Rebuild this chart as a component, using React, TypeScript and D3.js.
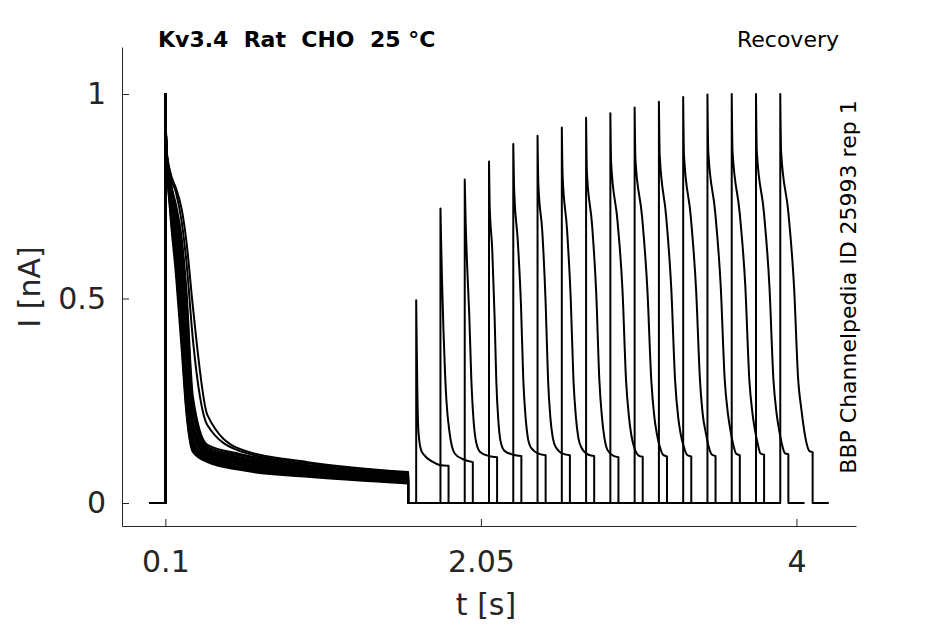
import React, { useEffect, useRef } from 'react';
import * as d3 from 'd3';

type Pt = [number, number];

// first (conditioning) pulse: sample times in s
const firstPulseTimes = [0.1, 0.106, 0.13, 0.165, 0.2, 0.23, 0.27, 0.36, 0.56, 0.98, 1.6];

// current in nA of every sweep at those times
const firstPulseCurrents: number[][] = [
  [1, 0.86, 0.71, 0.56, 0.38, 0.22, 0.125, 0.1, 0.081, 0.064, 0.048],
  [1, 0.86, 0.72, 0.58, 0.4, 0.23, 0.13, 0.103, 0.084, 0.066, 0.05],
  [1, 0.86, 0.73, 0.6, 0.42, 0.25, 0.135, 0.106, 0.087, 0.068, 0.051],
  [1, 0.86, 0.74, 0.62, 0.45, 0.27, 0.14, 0.108, 0.089, 0.07, 0.053],
  [1, 0.86, 0.74, 0.63, 0.47, 0.29, 0.145, 0.111, 0.092, 0.072, 0.055],
  [1, 0.87, 0.75, 0.65, 0.5, 0.31, 0.15, 0.114, 0.095, 0.074, 0.056],
  [1, 0.87, 0.76, 0.66, 0.52, 0.33, 0.16, 0.117, 0.097, 0.076, 0.058],
  [1, 0.87, 0.76, 0.67, 0.54, 0.35, 0.17, 0.12, 0.1, 0.078, 0.06],
  [1, 0.87, 0.77, 0.68, 0.56, 0.38, 0.18, 0.123, 0.103, 0.08, 0.061],
  [1, 0.87, 0.77, 0.69, 0.58, 0.41, 0.19, 0.126, 0.106, 0.082, 0.063],
  [1, 0.87, 0.78, 0.7, 0.6, 0.44, 0.2, 0.129, 0.109, 0.084, 0.065],
  [1, 0.87, 0.78, 0.71, 0.62, 0.47, 0.22, 0.133, 0.112, 0.087, 0.067],
  [1, 0.87, 0.79, 0.72, 0.64, 0.5, 0.24, 0.137, 0.116, 0.09, 0.069],
  [1, 0.87, 0.79, 0.73, 0.65, 0.52, 0.26, 0.142, 0.12, 0.093, 0.071],
  [1, 0.87, 0.8, 0.76, 0.69, 0.59, 0.4, 0.19, 0.127, 0.097, 0.074],
  [1, 0.87, 0.81, 0.77, 0.72, 0.64, 0.48, 0.215, 0.132, 0.1, 0.076],
];

// onset of the test pulse in each sweep (s)
const secondPulseStarts = [1.65, 1.8, 1.95, 2.1, 2.25, 2.4, 2.55, 2.7, 2.85, 3.0, 3.15, 3.3, 3.45, 3.6, 3.75, 3.9];

// test pulse: [ms after onset, nA]
const secondPulseTraces: Pt[][] = [
  [[0, 0.496], [3, 0.4], [7, 0.28], [12, 0.19], [20, 0.15], [30, 0.13], [50, 0.117], [100, 0.101], [145, 0.093], [200, 0.091]],
  [[0, 0.72], [4, 0.64], [10, 0.54], [18, 0.43], [28, 0.32], [37, 0.25], [57, 0.17], [88, 0.121], [140, 0.107], [200, 0.1]],
  [[0, 0.791], [5, 0.7], [15, 0.58], [28, 0.46], [41, 0.3], [55, 0.2], [70, 0.15], [95, 0.125], [150, 0.115], [200, 0.112]],
  [[0, 0.835], [4, 0.73], [20, 0.62], [35, 0.45], [45, 0.3], [58, 0.2], [72, 0.15], [95, 0.128], [150, 0.118], [200, 0.115]],
  [[0, 0.878], [5, 0.77], [28, 0.64], [48, 0.48], [62, 0.3], [76, 0.21], [90, 0.16], [110, 0.135], [160, 0.12], [200, 0.117]],
  [[0, 0.898], [5, 0.78], [30, 0.66], [50, 0.49], [65, 0.3], [79, 0.21], [94, 0.16], [115, 0.135], [160, 0.12], [200, 0.117]],
  [[0, 0.918], [5, 0.8], [32, 0.67], [55, 0.5], [72, 0.3], [87, 0.21], [102, 0.16], [122, 0.135], [165, 0.118], [200, 0.115]],
  [[0, 0.942], [5, 0.81], [37, 0.68], [63, 0.51], [82, 0.3], [98, 0.21], [113, 0.16], [132, 0.13], [170, 0.115], [200, 0.112]],
  [[0, 0.953], [5, 0.83], [44, 0.69], [75, 0.52], [97, 0.3], [115, 0.21], [130, 0.165], [148, 0.135], [175, 0.116], [200, 0.113]],
  [[0, 0.967], [5, 0.84], [46, 0.7], [79, 0.52], [103, 0.3], [122, 0.21], [137, 0.17], [154, 0.14], [178, 0.117], [200, 0.114]],
  [[0, 0.981], [5, 0.85], [45, 0.7], [77, 0.52], [100, 0.3], [119, 0.21], [134, 0.17], [152, 0.14], [176, 0.117], [200, 0.114]],
  [[0, 0.993], [5, 0.85], [47, 0.7], [80, 0.52], [104, 0.3], [123, 0.21], [138, 0.175], [155, 0.142], [178, 0.118], [200, 0.115]],
  [[0, 0.999], [5, 0.86], [48, 0.71], [82, 0.53], [107, 0.3], [126, 0.22], [141, 0.18], [158, 0.145], [178, 0.12], [200, 0.117]],
  [[0, 1], [5, 0.86], [49, 0.71], [84, 0.53], [109, 0.3], [128, 0.22], [143, 0.18], [160, 0.146], [178, 0.121], [200, 0.118]],
  [[0, 1], [5, 0.86], [49, 0.71], [83, 0.53], [108, 0.3], [127, 0.22], [142, 0.18], [159, 0.146], [178, 0.122], [200, 0.119]],
  [[0, 1], [5, 0.86], [50, 0.71], [85, 0.53], [111, 0.3], [130, 0.23], [145, 0.185], [162, 0.147], [178, 0.128], [200, 0.124]],
];

const xTicks = [0.1, 2.05, 4];
const yTicks = [0, 0.5, 1];

const W = 945;
const H = 624;
const FONT = '"DejaVu Sans", sans-serif';
const AX = '#262626';

const App = () => {
  const ref = useRef<SVGSVGElement>(null);

  useEffect(() => {
    const svg = d3.select(ref.current);
    svg.selectAll('*').remove();

    const x = d3.scaleLinear().domain([-0.168, 4.368]).range([122, 856]);
    const y = d3.scaleLinear().domain([-0.0562, 1.115]).range([526, 47]);

    const lin = d3.line<Pt>().x(d => x(d[0])).y(d => y(d[1]));
    const smooth = d3
      .line<Pt>()
      .x(d => x(d[0]))
      .y(d => y(d[1]))
      .curve(d3.curveMonotoneX);
    const join = (parts: string[]) =>
      parts.map((p, i) => (i ? p.replace(/^M/, 'L') : p)).join('');

    const sweeps = firstPulseCurrents.map((cur, i) => {
      const s = secondPulseStarts[i];
      const first: Pt[] = firstPulseTimes.map((t, j) => [t, cur[j]]);
      const second: Pt[] = secondPulseTraces[i].map(([ms, v]) => [s + ms / 1000, v]);
      return join([
        lin([[0, 0], [0.1, 0]])!,
        smooth(first)!,
        lin([[1.6, 0], [s, 0]])!,
        smooth(second)!,
        lin([[s + 0.2, 0], [s + 0.3, 0]])!,
      ]);
    });

    svg
      .append('g')
      .selectAll('path')
      .data(sweeps)
      .join('path')
      .attr('d', d => d)
      .attr('fill', 'none')
      .attr('stroke', '#000')
      .attr('stroke-width', 2)
      .attr('stroke-linejoin', 'round');

    // axes
    const yAxis = svg
      .append('g')
      .attr('transform', 'translate(122,0)')
      .call(
        d3
          .axisLeft(y)
          .tickValues(yTicks)
          .tickFormat(d => String(d))
          .tickSizeInner(-7)
          .tickSizeOuter(0)
          .tickPadding(16)
      );
    const xAxis = svg
      .append('g')
      .attr('transform', 'translate(0,526)')
      .call(
        d3
          .axisBottom(x)
          .tickValues(xTicks)
          .tickFormat(d => String(d))
          .tickSizeInner(-7)
          .tickSizeOuter(0)
          .tickPadding(25)
      );
    [yAxis, xAxis].forEach(g => {
      g.select('.domain').attr('stroke', AX);
      g.selectAll('.tick line').attr('stroke', AX);
      g.selectAll('.tick text')
        .attr('fill', AX)
        .style('font-family', FONT)
        .style('font-size', '30px');
    });

    svg
      .append('text')
      .attr('x', 486)
      .attr('y', 615)
      .attr('text-anchor', 'middle')
      .attr('fill', AX)
      .style('font-family', FONT)
      .style('font-size', '30px')
      .text('t [s]');

    svg
      .append('text')
      .attr('transform', 'translate(40,287) rotate(-90)')
      .attr('text-anchor', 'middle')
      .attr('fill', AX)
      .style('font-family', FONT)
      .style('font-size', '30px')
      .text('I [nA]');

    svg
      .append('text')
      .attr('x', 158)
      .attr('y', 47)
      .attr('fill', '#000')
      .style('font-family', FONT)
      .style('font-size', '22px')
      .style('font-weight', 'bold')
      .style('white-space', 'pre')
      .text('Kv3.4  Rat  CHO  25 °C');

    svg
      .append('text')
      .attr('x', 839)
      .attr('y', 47)
      .attr('text-anchor', 'end')
      .attr('fill', '#000')
      .style('font-family', FONT)
      .style('font-size', '22px')
      .text('Recovery');

    svg
      .append('text')
      .attr('transform', 'translate(856,287) rotate(-90)')
      .attr('text-anchor', 'middle')
      .attr('fill', '#000')
      .style('font-family', FONT)
      .style('font-size', '22px')
      .text('BBP Channelpedia ID 25993 rep 1');
  }, []);

  return (
    <svg
      ref={ref}
      width={W}
      height={H}
      style={{ position: 'absolute', left: 0, top: 0, background: '#fff' }}
    />
  );
};

export default App;
